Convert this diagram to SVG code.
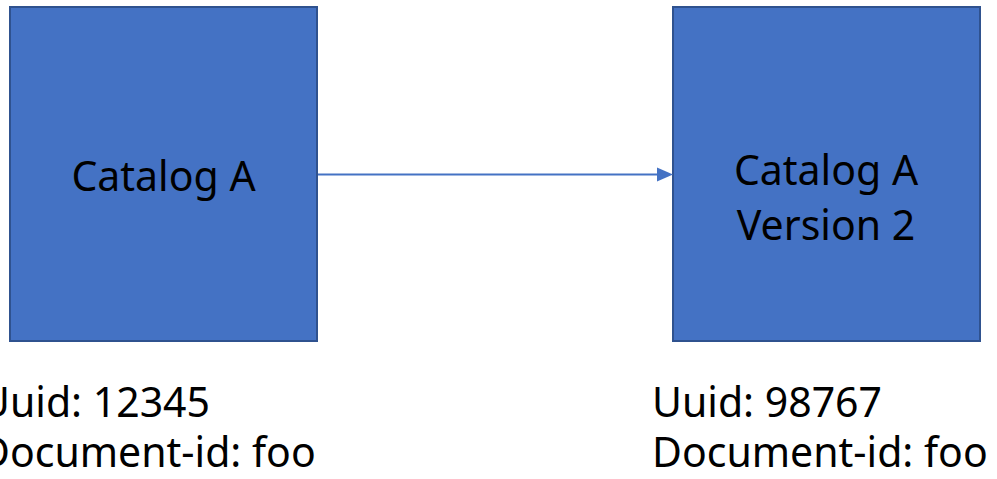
<svg xmlns="http://www.w3.org/2000/svg" width="997" height="479" viewBox="0 0 997 479">
<style>
.box{fill:#4472C4;stroke:#2F528F;stroke-width:2}
.lbl{font-family:"Noto Sans","Open Sans",sans-serif;font-size:41px;fill:#000}
.conn{stroke:#4472C4;stroke-width:2;fill:none}
</style>
<defs>
<marker id="arr" viewBox="0 0 10 10" refX="10" refY="5" markerWidth="7.5" markerHeight="7.5" markerUnits="userSpaceOnUse" orient="auto">
<path d="M0,0 L10,5 L0,10 z" fill="#4472C4"/>
</marker>
</defs>
<g id="catalogA">
<rect class="box" x="10" y="7" width="307" height="334"/>
<text class="lbl" x="163.5" y="191" text-anchor="middle">Catalog A</text>
</g>
<g id="catalogA2">
<rect class="box" x="673" y="7" width="307" height="334"/>
<text class="lbl" x="826" y="185" text-anchor="middle">Catalog A</text>
<text class="lbl" x="826" y="240" text-anchor="middle">Version 2</text>
</g>
<g id="infoA">
<text class="lbl" x="-20" y="417">Uuid: 12345</text>
<text class="lbl" x="-20" y="467">Document-id: foo</text>
</g>
<g id="infoA2">
<text class="lbl" x="652" y="417">Uuid: 98767</text>
<text class="lbl" x="652" y="467">Document-id: foo</text>
</g>
<g id="connectors">
<line class="conn" x1="318" y1="174.5" x2="658" y2="174.5"/>
<path d="M657,167.5 L673,174.5 L657,181.5 z" fill="#4472C4"/>
</g>
</svg>
